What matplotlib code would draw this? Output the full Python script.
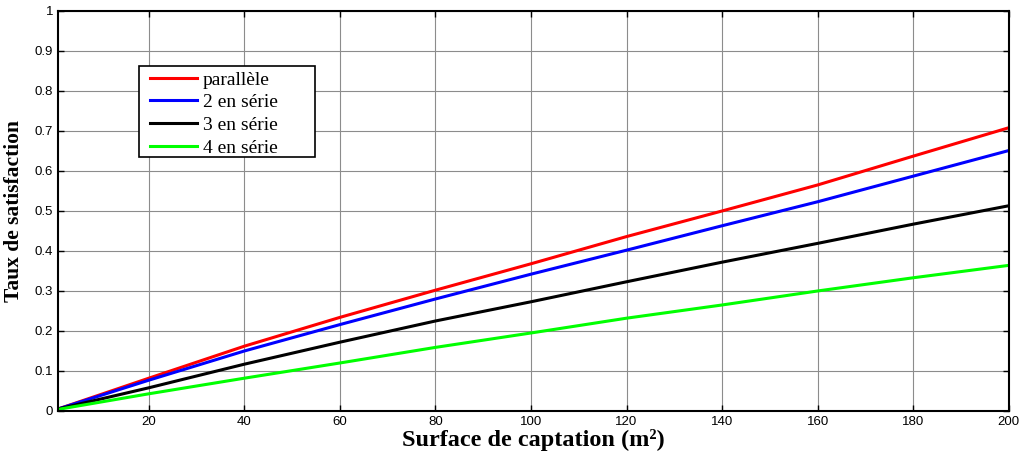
import matplotlib
matplotlib.use("Agg")
import matplotlib.pyplot as plt
from matplotlib.patches import Rectangle

surface = [1, 20, 40, 60, 80, 100, 120, 140, 160, 180, 200]
parallele = [0.005, 0.082, 0.162, 0.234, 0.302, 0.368, 0.436, 0.500, 0.565, 0.637, 0.708]
serie2 = [0.005, 0.077, 0.150, 0.216, 0.280, 0.342, 0.402, 0.463, 0.523, 0.587, 0.651]
serie3 = [0.005, 0.058, 0.117, 0.172, 0.225, 0.273, 0.323, 0.372, 0.419, 0.467, 0.513]
serie4 = [0.004, 0.043, 0.082, 0.120, 0.159, 0.195, 0.232, 0.265, 0.300, 0.333, 0.364]
labels = ["parallèle", "2 en série", "3 en série", "4 en série"]
colors = ["#ff0000", "#0000ff", "#000000", "#00ff00"]
xticks = [20, 40, 60, 80, 100, 120, 140, 160, 180, 200]
yticks = [0, 0.1, 0.2, 0.3, 0.4, 0.5, 0.6, 0.7, 0.8, 0.9, 1]

fig = plt.figure(figsize=(10.2, 4.51), dpi=100)
ax = fig.add_axes([0.0569, 0.0887, 0.932, 0.887])

for ys, lab, c in zip([parallele, serie2, serie3, serie4], labels, colors):
    ax.plot(surface, ys, color=c, lw=2.2, label=lab)

ax.set_xlim(1, 200)
ax.set_ylim(0, 1)
ax.set_xticks(xticks)
ax.set_yticks(yticks)
ax.set_xticklabels([str(v) for v in xticks])
ax.set_yticklabels(["0" if v == 0 else ("1" if v == 1 else f"{v:g}") for v in yticks])
ax.grid(True, color="#8c8c8c", lw=0.8)
ax.set_axisbelow(True)
ax.tick_params(direction="in", top=True, right=True, length=4, width=1,
               labelsize=9.5, colors="black")
for lbl in ax.get_xticklabels() + ax.get_yticklabels():
    lbl.set_family("Liberation Sans")
for s in ax.spines.values():
    s.set_linewidth(1.5)

ax.set_xlabel("Surface de captation (m²)", family="Liberation Serif",
              fontweight="bold", fontsize=17.5, labelpad=1)
ax.set_ylabel("Taux de satisfaction", family="Liberation Serif",
              fontweight="bold", fontsize=15.5, labelpad=8)

# legend frame drawn separately (MATLAB-style wide box): px 139..315, 66..157
def ax_x(px):
    return (px - 58) / 951

def ax_y(py):
    return (411 - py) / 400

frame = Rectangle((ax_x(139), ax_y(157)), ax_x(315) - ax_x(139), ax_y(66) - ax_y(157),
                  transform=ax.transAxes, facecolor="white", edgecolor="black",
                  lw=1.2, zorder=4.5)
ax.add_patch(frame)

leg = ax.legend(loc="upper left", bbox_to_anchor=(ax_x(150), ax_y(71)),
                borderaxespad=0, borderpad=0, frameon=False,
                prop={"family": "Liberation Serif", "size": 14},
                handlelength=2.4, handletextpad=0.3, labelspacing=0.26)
leg.set_zorder(5)

fig.savefig("out.png", dpi=100)
